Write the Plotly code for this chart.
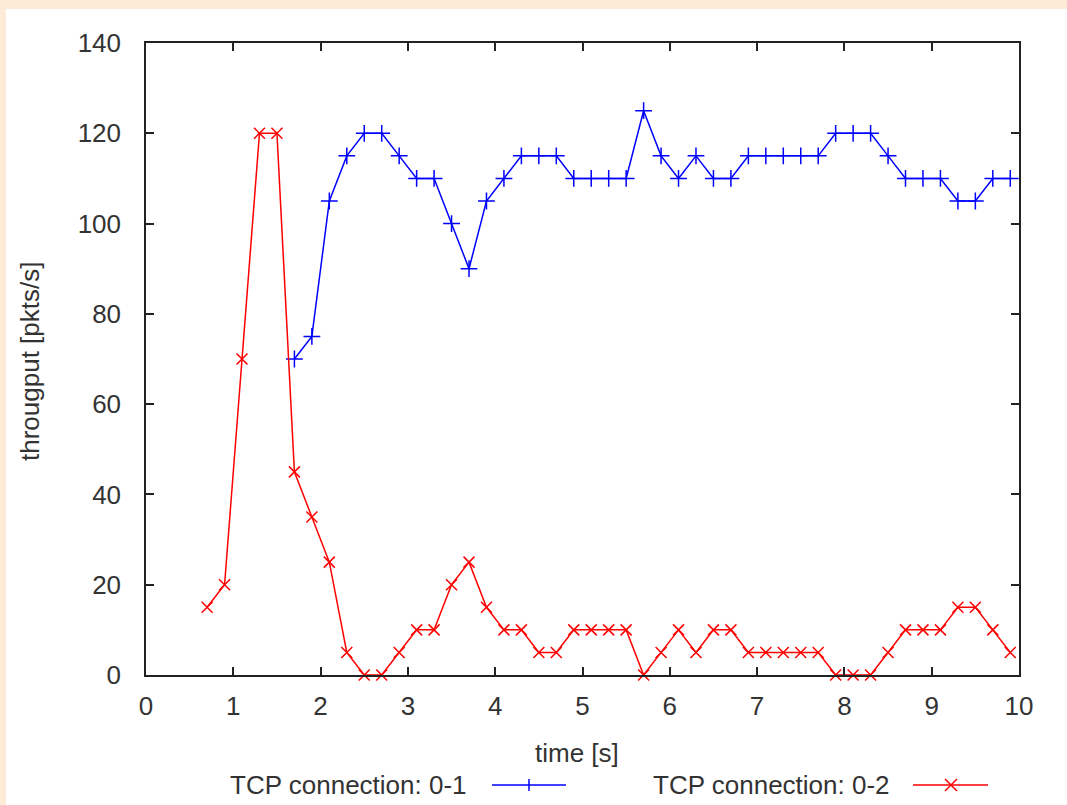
import plotly.graph_objects as go

# ---- data ----
t_blue = [1.7, 1.9, 2.1, 2.3, 2.5, 2.7, 2.9, 3.1, 3.3, 3.5, 3.7, 3.9, 4.1, 4.3, 4.5, 4.7,
          4.9, 5.1, 5.3, 5.5, 5.7, 5.9, 6.1, 6.3, 6.5, 6.7, 6.9, 7.1, 7.3, 7.5, 7.7, 7.9,
          8.1, 8.3, 8.5, 8.7, 8.9, 9.1, 9.3, 9.5, 9.7, 9.9]
thr_blue = [70, 75, 105, 115, 120, 120, 115, 110, 110, 100, 90, 105, 110, 115, 115, 115,
            110, 110, 110, 110, 125, 115, 110, 115, 110, 110, 115, 115, 115, 115, 115, 120,
            120, 120, 115, 110, 110, 110, 105, 105, 110, 110]

t_red = [0.7, 0.9, 1.1, 1.3, 1.5, 1.7, 1.9, 2.1, 2.3, 2.5, 2.7, 2.9, 3.1, 3.3, 3.5, 3.7,
         3.9, 4.1, 4.3, 4.5, 4.7, 4.9, 5.1, 5.3, 5.5, 5.7, 5.9, 6.1, 6.3, 6.5, 6.7, 6.9,
         7.1, 7.3, 7.5, 7.7, 7.9, 8.1, 8.3, 8.5, 8.7, 8.9, 9.1, 9.3, 9.5, 9.7, 9.9]
thr_red = [15, 20, 70, 120, 120, 45, 35, 25, 5, 0, 0, 5, 10, 10, 20, 25,
           15, 10, 10, 5, 5, 10, 10, 10, 10, 0, 5, 10, 5, 10, 10, 5,
           5, 5, 5, 5, 0, 0, 0, 5, 10, 10, 10, 15, 15, 10, 5]

x_ticks = list(range(0, 11))
y_ticks = list(range(0, 141, 20))
name_blue = "TCP connection: 0-1"
name_red = "TCP connection: 0-2"
x_title = "time [s]"
y_title = "througput [pkts/s]"

BLUE = "#0000ff"
RED = "#ff0000"
TXT = "#333333"
FONT = "Liberation Sans, Arial, sans-serif"
FS = 26

W, H = 1067, 805
L, R, T, B = 146, 1019, 43, 675
PW, PH = R - L, B - T


def px(x):
    return (x - L) / PW


def py(y):
    return (B - y) / PH


fig = go.Figure()
fig.add_trace(go.Scatter(
    x=t_blue, y=thr_blue, mode="lines+markers", name=name_blue,
    line=dict(color=BLUE, width=1.5),
    marker=dict(symbol="cross-thin", size=12, color=BLUE, line=dict(color=BLUE, width=1.5)),
    cliponaxis=False, showlegend=False))
fig.add_trace(go.Scatter(
    x=t_red, y=thr_red, mode="lines+markers", name=name_red,
    line=dict(color=RED, width=1.5),
    marker=dict(symbol="x-thin", size=11, color=RED, line=dict(color=RED, width=1.5)),
    cliponaxis=False, showlegend=False))

axis_common = dict(
    showgrid=False, zeroline=False, showline=True, linecolor="#222222", linewidth=1.5,
    mirror="ticks", ticks="inside", ticklen=8, tickwidth=1.5, tickcolor="#222222",
    tickfont=dict(family=FONT, size=FS, color=TXT),
)
fig.update_xaxes(range=[0, 10], tickvals=x_ticks, ticklabelstandoff=7, **axis_common)
fig.update_yaxes(range=[0, 140], tickvals=y_ticks, ticklabelstandoff=18, **axis_common)

shapes = [
    dict(type="rect", xref="paper", yref="paper", x0=px(6), x1=px(W + 5), y0=py(H + 5), y1=py(9),
         fillcolor="white", line=dict(width=0), layer="below"),
]
# legend samples
leg_y = 785
for (x0, x1, xm, col, kind) in [(492, 566, 529, BLUE, "+"), (913, 988, 951, RED, "x")]:
    shapes.append(dict(type="line", xref="paper", yref="paper", x0=px(x0), x1=px(x1),
                       y0=py(leg_y), y1=py(leg_y), line=dict(color=col, width=1.5)))
    r = 6
    if kind == "+":
        segs = [(xm, leg_y - r, xm, leg_y + r)]
    else:
        segs = [(xm - r, leg_y - r, xm + r, leg_y + r), (xm - r, leg_y + r, xm + r, leg_y - r)]
    for (a, b, c, d) in segs:
        shapes.append(dict(type="line", xref="paper", yref="paper", x0=px(a), x1=px(c),
                           y0=py(b), y1=py(d), line=dict(color=col, width=1.5)))

annotations = [
    dict(text=x_title, xref="paper", yref="paper", x=px(577), y=py(753), showarrow=False,
         xanchor="center", yanchor="middle", font=dict(family=FONT, size=FS, color=TXT)),
    dict(text=y_title, xref="paper", yref="paper", x=px(30), y=py(362), showarrow=False,
         xanchor="center", yanchor="middle", textangle=-90, font=dict(family=FONT, size=FS, color=TXT)),
    dict(text=name_blue, xref="paper", yref="paper", x=px(469), y=py(leg_y), showarrow=False,
         xanchor="right", yanchor="middle", font=dict(family=FONT, size=FS, color=TXT)),
    dict(text=name_red, xref="paper", yref="paper", x=px(892), y=py(leg_y), showarrow=False,
         xanchor="right", yanchor="middle", font=dict(family=FONT, size=FS, color=TXT)),
]

fig.update_layout(
    width=W, height=H,
    margin=dict(l=L, r=W - R, t=T, b=H - B, pad=0),
    paper_bgcolor="#fdebd8", plot_bgcolor="rgba(0,0,0,0)",
    shapes=shapes, annotations=annotations, showlegend=False,
    font=dict(family=FONT, size=FS, color=TXT),
)

fig.write_html("out.html")
